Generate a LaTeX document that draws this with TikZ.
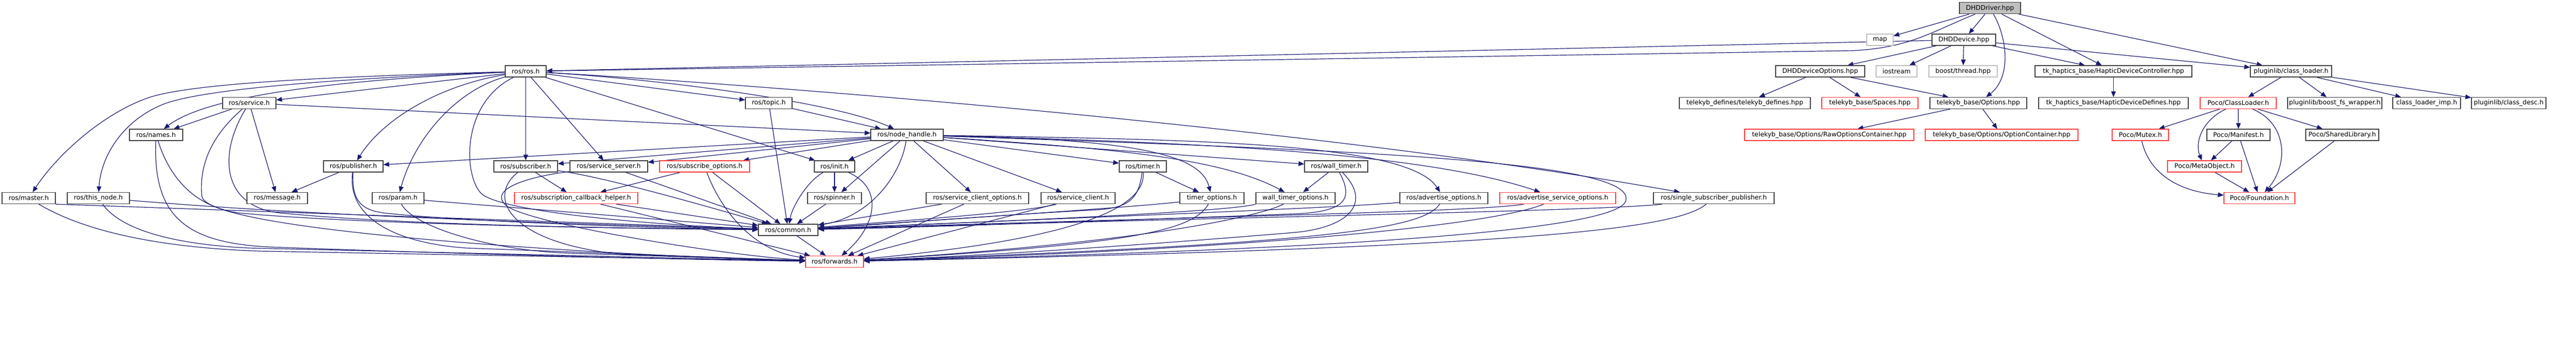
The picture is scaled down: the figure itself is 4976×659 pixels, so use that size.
\documentclass[tikz,border=0pt]{standalone}
\usepackage{fontspec}
\setmainfont{DejaVu Sans}
\usetikzlibrary{arrows.meta}
\definecolor{eblue}{RGB}{25,25,112}
\definecolor{nred}{RGB}{255,60,60}
\definecolor{ngrey}{RGB}{191,191,191}
\definecolor{nblack}{RGB}{64,64,64}
\pgfdeclarelayer{bglayer}
\pgfdeclarelayer{edgelayer}
\pgfsetlayers{bglayer,edgelayer,main}
\begin{document}
\begin{tikzpicture}[x=1pt,y=-1pt,
  nb/.style={rectangle, draw=nblack, line width=1.3pt, fill=white, minimum height=22pt, inner sep=0pt, font=\fontsize{12.4pt}{15pt}\selectfont},
  nr/.style={nb, draw=nred},
  ng/.style={nb, draw=ngrey},
  e/.style={draw=eblue, line width=1.2pt, -{Triangle[length=11pt,width=9pt]}}]
\begin{pgfonlayer}{bglayer}
\fill[white] (0,0) rectangle (4976,659);
\end{pgfonlayer}
\useasboundingbox (0,0) rectangle (4976,659);
% ---------- nodes ----------
\node[nb,fill=ngrey,minimum width=118pt] (drv) at (3844,15.7) {DHDDriver.hpp};
\node[ng,minimum width=51pt] (map) at (3631.5,77) {map};
\node[nb,minimum width=123pt] (dev) at (3793.5,77) {DHDDevice.hpp};
\node[nb,minimum width=79pt] (ros) at (1015.5,138) {ros/ros.h};
\node[nb,minimum width=172pt] (ddo) at (3516,138) {DHDDeviceOptions.hpp};
\node[ng,minimum width=79pt] (ios) at (3663.5,138) {iostream};
\node[ng,minimum width=132pt] (bth) at (3792,138) {boost/thread.hpp};
\node[nb,minimum width=303pt] (hdc) at (4082.5,138) {tk\_haptics\_base/HapticDeviceController.hpp};
\node[nb,minimum width=157pt] (pcl) at (4425.5,138) {pluginlib/class\_loader.h};
\node[nb,minimum width=103pt] (svc) at (481.5,199.5) {ros/service.h};
\node[nb,minimum width=90pt] (topic) at (1485,199.5) {ros/topic.h};
\node[nb,minimum width=253pt] (tkd) at (3370.5,199.5) {telekyb\_defines/telekyb\_defines.hpp};
\node[nr,minimum width=186pt] (spc) at (3612,199.5) {telekyb\_base/Spaces.hpp};
\node[nb,minimum width=187pt] (opts) at (3821.5,199.5) {telekyb\_base/Options.hpp};
\node[nb,minimum width=289pt] (hdd) at (4082.5,199.5) {tk\_haptics\_base/HapticDeviceDefines.hpp};
\node[nr,minimum width=147pt] (pocl) at (4323.5,199.5) {Poco/ClassLoader.h};
\node[nb,minimum width=182pt] (bfs) at (4510,199.5) {pluginlib/boost\_fs\_wrapper.h};
\node[nb,minimum width=131pt] (cli) at (4687.5,199.5) {class\_loader\_imp.h};
\node[nb,minimum width=144pt] (cld) at (4846,199.5) {pluginlib/class\_desc.h};
\node[nb,minimum width=103pt] (names) at (301.5,261) {ros/names.h};
\node[nb,minimum width=140pt] (nh) at (1752,261) {ros/node\_handle.h};
\node[nr,minimum width=327pt] (roc) at (3533.5,261) {telekyb\_base/Options/RawOptionsContainer.hpp};
\node[nr,minimum width=295pt] (oc) at (3866.5,261) {telekyb\_base/Options/OptionContainer.hpp};
\node[nr,minimum width=109pt] (mtx) at (4134.5,261) {Poco/Mutex.h};
\node[nb,minimum width=122pt] (mnf) at (4324,261) {Poco/Manifest.h};
\node[nb,minimum width=141pt] (shl) at (4524.5,261) {Poco/SharedLibrary.h};
\node[nb,minimum width=115pt] (pub) at (682.5,322) {ros/publisher.h};
\node[nb,minimum width=123pt] (sub) at (1015.5,322) {ros/subscriber.h};
\node[nb,minimum width=150pt] (ssrv) at (1176,322) {ros/service\_server.h};
\node[nr,minimum width=174pt] (sopt) at (1361,322) {ros/subscribe\_options.h};
\node[nb,minimum width=78pt] (init) at (1612,322) {ros/init.h};
\node[nb,minimum width=91pt] (timer) at (2207.5,322) {ros/timer.h};
\node[nb,minimum width=122pt] (wt) at (2581,322) {ros/wall\_timer.h};
\node[nr,minimum width=143pt] (meta) at (4258.5,322) {Poco/MetaObject.h};
\node[nb,minimum width=103pt] (master) at (55.5,383.5) {ros/master.h};
\node[nb,minimum width=120pt] (thisn) at (190,383.5) {ros/this\_node.h};
\node[nb,minimum width=117pt] (msg) at (535.5,383.5) {ros/message.h};
\node[nb,minimum width=100pt] (param) at (769,383.5) {ros/param.h};
\node[nr,minimum width=238pt] (sch) at (1113,383.5) {ros/subscription\_callback\_helper.h};
\node[nb,minimum width=104pt] (spin) at (1612,383.5) {ros/spinner.h};
\node[nb,minimum width=198pt] (sco) at (1888,383.5) {ros/service\_client\_options.h};
\node[nb,minimum width=143pt] (sc) at (2082.5,383.5) {ros/service\_client.h};
\node[nb,minimum width=124pt] (tmo) at (2341,383.5) {timer\_options.h};
\node[nb,minimum width=153pt] (wto) at (2502.5,383.5) {wall\_timer\_options.h};
\node[nb,minimum width=170pt] (ao) at (2789,383.5) {ros/advertise\_options.h};
\node[nr,minimum width=224pt] (aso) at (3009,383.5) {ros/advertise\_service\_options.h};
\node[nb,minimum width=233pt] (ssp) at (3310.5,383.5) {ros/single\_subscriber\_publisher.h};
\node[nr,minimum width=137pt] (fnd) at (4364.5,383.5) {Poco/Foundation.h};
\node[nb,minimum width=115pt] (common) at (1522.5,445) {ros/common.h};
\node[nr,minimum width=112pt] (fwd) at (1612,506.5) {ros/forwards.h};
% ---------- edges ----------
\begin{pgfonlayer}{edgelayer}
% top part
\draw[e] (drv) -- (map);
\draw[e] (drv) -- (dev);
\draw[e] (drv) .. controls (3730,62) and (3690,92) .. (3580,98) -- (ros);
\draw[e] (drv) .. controls (3878,75) and (3885,150) .. (opts);
\draw[e] (drv) -- (hdc);
\draw[e] (drv) -- (pcl);
\draw[e] (dev) -- (ros);
\draw[e] (dev) -- (ddo);
\draw[e] (dev) -- (ios);
\draw[e] (dev) -- (bth);
\draw[e] (dev) -- (hdc);
\draw[e] (dev) -- (pcl);
\draw[e] (ddo) -- (tkd);
\draw[e] (ddo) -- (spc);
\draw[e] (ddo) -- (opts);
\draw[e] (opts) -- (roc);
\draw[e] (opts) -- (oc);
\draw[e] (hdc) -- (hdd);
\draw[e] (pcl) -- (pocl);
\draw[e] (pcl) -- (bfs);
\draw[e] (pcl) -- (cli);
\draw[e] (pcl) -- (cld);
\draw[e] (pocl) -- (mtx);
\draw[e] (pocl) -- (mnf);
\draw[e] (pocl) -- (shl);
\draw[e] (pocl) .. controls (4250,235) and (4240,280) .. (meta);
\draw[e] (pocl) .. controls (4420,240) and (4420,320) .. (fnd);
\draw[e] (mnf) -- (meta);
\draw[e] (mnf) -- (fnd);
\draw[e] (meta) -- (fnd);
\draw[e] (mtx) .. controls (4150,330) and (4200,370) .. (fnd);
\draw[e] (shl) -- (fnd);
% ros.h
\draw[e] (ros) -- (svc);
\draw[e] (ros) .. controls (650,155) and (400,185) .. (names);
\draw[e] (ros) .. controls (650,148) and (380,160) .. (290,188) .. controls (200,218) and (110,300) .. (master);
\draw[e] (ros) .. controls (650,152) and (400,172) .. (320,200) .. controls (240,230) and (195,300) .. (thisn);
\draw[e] (ros) .. controls (850,165) and (740,230) .. (pub);
\draw[e] (ros) .. controls (880,175) and (800,270) .. (param);
\draw[e] (ros) -- (sub);
\draw[e] (ros) -- (ssrv);
\draw[e] (ros) .. controls (890,200) and (895,340) .. (930,375) .. controls (970,410) and (1250,435) .. (common);
\draw[e] (ros) -- (topic);
\draw[e] (ros) -- (init);
\draw[e] (ros) .. controls (1300,155) and (1620,200) .. (nh);
\draw[e] (ros) .. controls (1400,160) and (2500,240) .. (ssp);
% service.h
\draw[e] (svc) -- (names);
\draw[e] (svc) -- (msg);
\draw[e] (svc) -- (nh);
\draw[e] (svc) .. controls (420,300) and (430,400) .. (540,412) .. controls (800,438) and (1250,442) .. (common);
\draw[e] (svc) .. controls (400,270) and (385,330) .. (390,380) .. controls (400,450) and (1200,495) .. (fwd);
% names, master, this_node
\draw[e] (names) .. controls (330,350) and (380,400) .. (460,412) .. controls (700,435) and (1250,443) .. (common);
\draw[e] (names) .. controls (295,420) and (360,470) .. (520,478) .. controls (900,492) and (1300,502) .. (fwd);
\draw[e] (master.south east) -- (common);
\draw[e] (master) .. controls (150,440) and (280,478) .. (500,486) -- (fwd);
\draw[e] (thisn) .. controls (350,395) and (600,420) .. (common);
\draw[e] (thisn) .. controls (230,440) and (320,472) .. (480,480) -- (fwd);
% publisher, param
\draw[e] (pub) -- (msg);
\draw[e] (pub) .. controls (680,380) and (690,405) .. (740,412) .. controls (900,430) and (1300,442) .. (common);
\draw[e] (pub) .. controls (670,420) and (760,470) .. (900,480) -- (fwd);
\draw[e] (param) -- (common);
\draw[e] (param) .. controls (800,440) and (950,485) .. (1100,490) -- (fwd);
% subscriber, service_server, subscribe_options, callback helper
\draw[e] (sub) -- (sch);
\draw[e] (sub) .. controls (1150,340) and (1300,380) .. (common);
\draw[e] (sub) .. controls (940,380) and (980,470) .. (1200,492) -- (fwd);
\draw[e] (ssrv) -- (common);
\draw[e] (ssrv) .. controls (1000,345) and (950,370) .. (975,395) .. controls (1000,430) and (1400,495) .. (fwd);
\draw[e] (sopt) -- (sch);
\draw[e] (sopt) -- (common);
\draw[e] (sopt) .. controls (1390,400) and (1450,485) .. (fwd);
\draw[e] (sch) -- (common);
\draw[e] (sch) -- (fwd);
% topic, init, spinner, common
\draw[e] (topic) -- (common);
\draw[e] (topic) -- (nh);
\draw[e] (init) -- (spin);
\draw[e] (init) .. controls (1560,350) and (1530,400) .. (common);
\draw[e] (init) .. controls (1710,365) and (1690,440) .. (fwd);
\draw[e] (spin) -- (common);
\draw[e] (common) -- (fwd);
% node_handle
\draw[e] (nh) -- (pub);
\draw[e] (nh) -- (sub);
\draw[e] (nh) -- (ssrv);
\draw[e] (nh) -- (sopt);
\draw[e] (nh) -- (init);
\draw[e] (nh) -- (spin);
\draw[e] (nh) .. controls (1740,340) and (1680,420) .. (common);
\draw[e] (nh) .. controls (2600,290) and (3170,310) .. (3140,390) .. controls (3110,460) and (2300,490) .. (fwd);
\draw[e] (nh) -- (sco);
\draw[e] (nh) -- (sc);
\draw[e] (nh) -- (timer);
\draw[e] (nh) .. controls (2200,270) and (2320,300) .. (tmo);
\draw[e] (nh) -- (wt);
\draw[e] (nh) .. controls (2100,285) and (2350,300) .. (wto);
\draw[e] (nh) .. controls (2300,270) and (2720,275) .. (ao);
\draw[e] (nh) .. controls (2300,275) and (2750,295) .. (aso);
% service client(s)
\draw[e] (sco) -- (common);
\draw[e] (sco) -- (fwd);
\draw[e] (sc) .. controls (1980,412) and (1700,430) .. (common);
\draw[e] (sc) -- (fwd);
% timers
\draw[e] (timer) -- (tmo);
\draw[e] (timer) .. controls (2200,385) and (2180,402) .. (2120,406) .. controls (1900,418) and (1700,435) .. (common);
\draw[e] (timer) .. controls (2215,420) and (2000,470) .. (fwd);
\draw[e] (tmo) .. controls (2200,400) and (1900,420) .. (common);
\draw[e] (tmo) .. controls (2305,445) and (2200,472) .. (fwd);
\draw[e] (wt) -- (wto);
\draw[e] (wt) .. controls (2615,385) and (2600,410) .. (2500,414) .. controls (2200,425) and (1800,440) .. (common);
\draw[e] (wt) .. controls (2650,390) and (2610,440) .. (2500,450) .. controls (2200,475) and (1900,495) .. (fwd);
\draw[e] (wto.south west) .. controls (2380,410) and (1900,430) .. (common);
\draw[e] (wto) .. controls (2430,420) and (2200,470) .. (fwd);
% advertise, single subscriber publisher
\draw[e] (ao) .. controls (2600,402) and (2000,425) .. (common);
\draw[e] (ao) .. controls (2750,440) and (2600,470) .. (fwd);
\draw[e] (aso) .. controls (2860,410) and (2300,420) .. (common);
\draw[e] (aso) .. controls (2900,430) and (2500,480) .. (fwd);
\draw[e] (ssp) .. controls (3100,408) and (2400,420) .. (common);
\draw[e] (ssp) .. controls (3240,440) and (3000,478) .. (fwd);
\end{pgfonlayer}
\end{tikzpicture}
\end{document}
